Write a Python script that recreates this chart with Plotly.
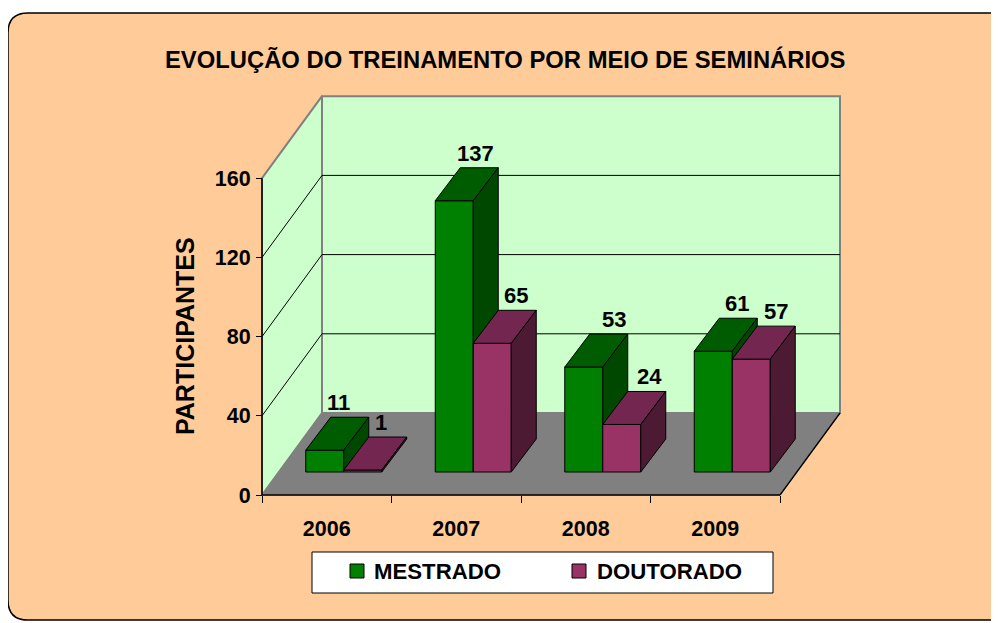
import plotly.graph_objects as go

# ---------------- data ----------------
categories = ["2006", "2007", "2008", "2009"]
series_names = ["MESTRADO", "DOUTORADO"]
mestrado = [11, 137, 53, 61]
doutorado = [1, 65, 24, 57]
y_ticks = [0, 40, 80, 120, 160]
title_text = "EVOLUÇÃO DO TREINAMENTO POR MEIO DE SEMINÁRIOS"
y_title = "PARTICIPANTES"

series_values = [mestrado, doutorado]
front_colors = ["#008000", "#993366"]
top_colors = ["#005C00", "#732650"]
side_colors = ["#004700", "#4D1A33"]

# horizontal nudge (px) of each value label from its bar's front-face centre
label_nudge = [[14, 21, 30, 24], [18, 24, 28, 25]]

# ---------------- geometry ----------------
# page has an 8px body margin; the figure is sized to fit the window
OFF = 8
W, H = 999 - OFF, 623 - OFF
PLOT_L, PLOT_R, PLOT_T, PLOT_B = 250, 850, 90, 500   # page pixels
ML, MR = PLOT_L - OFF, W - (PLOT_R - OFF)
MT, MB = PLOT_T - OFF, H - (PLOT_B - OFF)
PW, PH = PLOT_R - PLOT_L, PLOT_B - PLOT_T

PX_PER_X = 129.5      # pixels per category
PX_PER_Y = 1.98       # pixels per unit value
X0_PX, Y0_PX = 262, 495
x_range = [(PLOT_L - X0_PX) / PX_PER_X, (PLOT_R - X0_PX) / PX_PER_X]
y_range = [(Y0_PX - PLOT_B) / PX_PER_Y, (Y0_PX - PLOT_T) / PX_PER_Y]

ncat = len(categories)
ymax = y_ticks[-1]
DX, DY = 60 / PX_PER_X, 82 / PX_PER_Y          # floor depth
BX0, BY0 = 17 / PX_PER_X, 23 / PX_PER_Y        # bar front offset
BDX, BDY = 25 / PX_PER_X, 33 / PX_PER_Y        # bar depth
BW = 38 / PX_PER_X                              # bar width

FONT = "Liberation Sans"


def px2paper_x(px):
    return (px - PLOT_L) / PW


def px2paper_y(py):
    return (PLOT_B - py) / PH


fig = go.Figure()


def poly(xs, ys, fill, line_color="black", line_width=1):
    fig.add_trace(go.Scatter(
        x=list(xs) + [xs[0]], y=list(ys) + [ys[0]], mode="lines",
        fill="toself", fillcolor=fill,
        line=dict(color=line_color, width=line_width),
        hoverinfo="skip", showlegend=False))


def lines(segs, color="black", width=1):
    xs, ys = [], []
    for (x1, y1, x2, y2) in segs:
        xs += [x1, x2, None]
        ys += [y1, y2, None]
    fig.add_trace(go.Scatter(x=xs, y=ys, mode="lines",
                             line=dict(color=color, width=width),
                             hoverinfo="skip", showlegend=False))


WALL = "#CCFFCC"
GRAY = "#808080"

# back wall
poly([DX, ncat + DX, ncat + DX, DX], [DY, DY, ymax + DY, ymax + DY], WALL, GRAY, 2)
# left wall
poly([0, DX, DX, 0], [0, DY, ymax + DY, ymax], WALL, GRAY, 2)
# floor
poly([0, ncat, ncat + DX, DX], [0, 0, DY, DY], GRAY, GRAY, 1)
# gridlines
grid = []
for t in y_ticks[1:-1]:
    grid.append((DX, t + DY, ncat + DX, t + DY))
    grid.append((0, t, DX, t + DY))
lines(grid, "black", 1)
# floor front & right edges, y axis line
lines([(0, 0, ncat, 0), (ncat, 0, ncat + DX, DY)], "black", 1.3)
lines([(0, 0, 0, ymax)], "black", 1.5)

# bars
annotations = []
for i in range(ncat):
    for s, vals in enumerate(series_values):
        v = vals[i]
        xl = i + 0.5 - BW + s * BW + BX0
        xr = xl + BW
        yb = BY0
        yt = BY0 + v
        poly([xl, xr, xr, xl], [yb, yb, yt, yt], front_colors[s])
        poly([xl, xr, xr + BDX, xl + BDX], [yt, yt, yt + BDY, yt + BDY], top_colors[s])
        poly([xr, xr + BDX, xr + BDX, xr], [yb, yb + BDY, yt + BDY, yt], side_colors[s])
        annotations.append(dict(
            x=xl + BW / 2 + label_nudge[s][i] / PX_PER_X, y=yt + BDY, xref="x", yref="y",
            text=str(v), showarrow=False, yanchor="bottom", xanchor="center",
            font=dict(size=22, color="black", family=FONT, weight="bold")))

# title
annotations.append(dict(
    x=px2paper_x(505), y=px2paper_y(60), xref="paper", yref="paper",
    text=title_text, showarrow=False, xanchor="center", yanchor="middle",
    font=dict(size=23.8, color="black", family=FONT, weight="bold")))
# y axis title
annotations.append(dict(
    x=px2paper_x(185), y=px2paper_y(336), xref="paper", yref="paper",
    text=y_title, showarrow=False, xanchor="center", yanchor="middle", textangle=-90,
    font=dict(size=25, color="black", family=FONT, weight="bold")))

shapes = []
# outer rounded background
x1, x2, y1, y2, r = 8, 1010, 13, 620, 20
path = (f"M {px2paper_x(x1 + r)},{px2paper_y(y1)} L {px2paper_x(x2)},{px2paper_y(y1)} "
        f"L {px2paper_x(x2)},{px2paper_y(y2)} L {px2paper_x(x1 + r)},{px2paper_y(y2)} "
        f"Q {px2paper_x(x1)},{px2paper_y(y2)} {px2paper_x(x1)},{px2paper_y(y2 - r)} "
        f"L {px2paper_x(x1)},{px2paper_y(y1 + r)} "
        f"Q {px2paper_x(x1)},{px2paper_y(y1)} {px2paper_x(x1 + r)},{px2paper_y(y1)} Z")
shapes.append(dict(type="path", path=path, xref="paper", yref="paper",
                   fillcolor="#FFCC99", line=dict(color="black", width=1.5), layer="below"))

# legend (manual)
shapes.append(dict(type="rect", xref="paper", yref="paper",
                   x0=px2paper_x(312), x1=px2paper_x(773), y0=px2paper_y(593), y1=px2paper_y(552),
                   fillcolor="white", line=dict(color="black", width=1), layer="above"))
leg_sq_x = [350, 572]
leg_txt_x = [372, 595]
for s, name in enumerate(series_names):
    shapes.append(dict(type="rect", xref="paper", yref="paper",
                       x0=px2paper_x(leg_sq_x[s]), x1=px2paper_x(leg_sq_x[s] + 14),
                       y0=px2paper_y(578), y1=px2paper_y(564),
                       fillcolor=front_colors[s], line=dict(color="black", width=1), layer="above"))
    annotations.append(dict(
        x=px2paper_x(leg_txt_x[s]), y=px2paper_y(571.5), xref="paper", yref="paper",
        text=name, showarrow=False, xanchor="left", yanchor="middle",
        font=dict(size=22.2, color="black", family=FONT, weight="bold")))

fig.update_layout(
    width=W, height=H, autosize=False,
    margin=dict(l=ML, r=MR, t=MT, b=MB),
    paper_bgcolor="white", plot_bgcolor="rgba(0,0,0,0)",
    showlegend=False,
    shapes=shapes, annotations=annotations,
    xaxis=dict(range=x_range, anchor="free", position=px2paper_y(Y0_PX),
               showgrid=False, zeroline=False, showline=False,
               tickmode="array", tickvals=[i + 0.5 for i in range(ncat)], ticktext=categories,
               ticks="outside", ticklen=14, tickcolor="rgba(0,0,0,0)",
               tickfont=dict(size=21.5, color="black", family=FONT, weight="bold"),
               minor=dict(tickmode="array", tickvals=list(range(ncat + 1)), ticks="outside",
                          ticklen=7, tickcolor="black", tickwidth=1),
               fixedrange=True),
    yaxis=dict(range=y_range, anchor="free", position=px2paper_x(X0_PX),
               showgrid=False, zeroline=False, showline=False,
               tickmode="array", tickvals=y_ticks,
               ticks="outside", ticklen=6, tickcolor="black", tickwidth=1,
               ticklabelstandoff=1,
               tickfont=dict(size=21.5, color="black", family=FONT, weight="bold"),
               fixedrange=True),
)

fig.write_html("out.html")
